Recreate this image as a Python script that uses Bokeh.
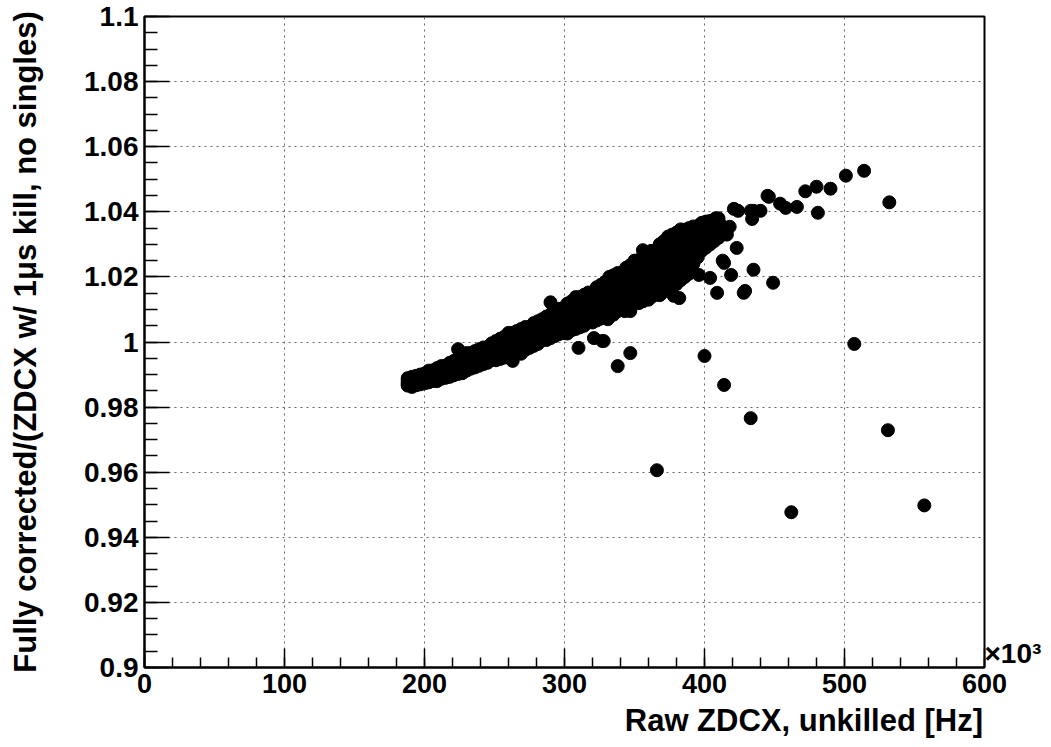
from bokeh.plotting import figure
from bokeh.models import (FixedTicker, CustomJSTickFormatter, Range1d, ColumnDataSource,
                          LinearAxis)
from bokeh.embed import file_html
from bokeh.resources import INLINE

# ---- data (x in units of 10^3 Hz) ----
# main band of the point cloud: x position and five rows from its lower to upper edge
band_x = [188, 191, 194, 197, 200, 203, 206, 209, 212, 215, 218, 221, 224, 227, 230, 233,
          236, 239, 242, 245, 248, 251, 254, 257, 260, 263, 266, 269, 272, 275, 278, 281,
          284, 287, 290, 293, 296, 299, 302, 305, 308, 311, 314, 317, 320, 323, 326, 329,
          332, 335, 338, 341, 344, 347, 350, 353, 356, 359, 362, 365, 368, 371, 374, 377,
          380, 383, 386, 389, 392, 395, 398, 401, 404, 407, 410]
band_lo = [0.9866, 0.9862, 0.9867, 0.9870, 0.9873, 0.9876, 0.9880, 0.9880, 0.9887, 0.9890, 0.9893, 0.9898, 0.9902, 0.9904, 0.9912, 0.9918,
           0.9922, 0.9927, 0.9932, 0.9936, 0.9945, 0.9944, 0.9948, 0.9952, 0.9956, 0.9942, 0.9965, 0.9964, 0.9976, 0.9982, 0.9988, 0.9994,
           1.0006, 1.0006, 1.0012, 1.0018, 1.0024, 1.0028, 1.0026, 1.0036, 1.0040, 1.0045, 1.0050, 1.0062, 1.0060, 1.0066, 1.0072, 1.0078,
           1.0084, 1.0084, 1.0095, 1.0100, 1.0105, 1.0110, 1.0122, 1.0120, 1.0125, 1.0132, 1.0138, 1.0145, 1.0144, 1.0158, 1.0165, 1.0172,
           1.0180, 1.0190, 1.0200, 1.0210, 1.0240, 1.0260, 1.0280, 1.0290, 1.0300, 1.0310, 1.0320]
band_q1 = [0.9871, 0.9870, 0.9874, 0.9879, 0.9880, 0.9884, 0.9889, 0.9893, 0.9896, 0.9900, 0.9906, 0.9909, 0.9914, 0.9918, 0.9924, 0.9929,
           0.9935, 0.9940, 0.9945, 0.9950, 0.9954, 0.9958, 0.9963, 0.9966, 0.9972, 0.9970, 0.9982, 0.9986, 0.9994, 0.9998, 1.0005, 1.0010,
           1.0018, 1.0023, 1.0031, 1.0036, 1.0043, 1.0048, 1.0054, 1.0058, 1.0064, 1.0068, 1.0074, 1.0080, 1.0086, 1.0092, 1.0099, 1.0104,
           1.0112, 1.0118, 1.0124, 1.0130, 1.0136, 1.0142, 1.0148, 1.0154, 1.0160, 1.0168, 1.0174, 1.0182, 1.0188, 1.0196, 1.0204, 1.0211,
           1.0220, 1.0228, 1.0238, 1.0246, 1.0269, 1.0285, 1.0301, 1.0310, 1.0318, 1.0326, 1.0335]
band_mid = [0.9876, 0.9880, 0.9883, 0.9887, 0.9885, 0.9894, 0.9897, 0.9904, 0.9905, 0.9912, 0.9918, 0.9921, 0.9928, 0.9930, 0.9938, 0.9943,
            0.9949, 0.9951, 0.9958, 0.9965, 0.9967, 0.9975, 0.9980, 0.9982, 0.9990, 0.9993, 1.0000, 1.0003, 1.0012, 1.0015, 1.0022, 1.0027,
            1.0036, 1.0040, 1.0050, 1.0055, 1.0062, 1.0068, 1.0076, 1.0080, 1.0088, 1.0092, 1.0099, 1.0105, 1.0112, 1.0118, 1.0126, 1.0130,
            1.0140, 1.0146, 1.0152, 1.0161, 1.0166, 1.0175, 1.0180, 1.0188, 1.0195, 1.0204, 1.0210, 1.0219, 1.0226, 1.0233, 1.0244, 1.0250,
            1.0260, 1.0266, 1.0275, 1.0282, 1.0298, 1.0310, 1.0322, 1.0330, 1.0336, 1.0342, 1.0350]
band_q3 = [0.9883, 0.9887, 0.9890, 0.9893, 0.9896, 0.9901, 0.9906, 0.9911, 0.9917, 0.9922, 0.9926, 0.9932, 0.9950, 0.9941, 0.9950, 0.9955,
           0.9961, 0.9965, 0.9971, 0.9976, 0.9982, 0.9988, 0.9995, 1.0000, 1.0006, 1.0011, 1.0018, 1.0022, 1.0029, 1.0034, 1.0040, 1.0046,
           1.0053, 1.0060, 1.0085, 1.0075, 1.0082, 1.0089, 1.0097, 1.0103, 1.0110, 1.0115, 1.0122, 1.0128, 1.0136, 1.0143, 1.0151, 1.0157,
           1.0166, 1.0176, 1.0182, 1.0190, 1.0197, 1.0205, 1.0212, 1.0220, 1.0238, 1.0237, 1.0245, 1.0254, 1.0263, 1.0272, 1.0284, 1.0290,
           1.0298, 1.0303, 1.0310, 1.0316, 1.0327, 1.0336, 1.0344, 1.0350, 1.0354, 1.0359, 1.0365]
band_hi = [0.9889, 0.9893, 0.9896, 0.9900, 0.9903, 0.9912, 0.9913, 0.9920, 0.9926, 0.9927, 0.9936, 0.9942, 0.9978, 0.9950, 0.9966, 0.9966,
           0.9972, 0.9978, 0.9983, 0.9985, 0.9996, 1.0003, 1.0010, 1.0016, 1.0028, 1.0028, 1.0034, 1.0040, 1.0046, 1.0047, 1.0058, 1.0064,
           1.0070, 1.0078, 1.0122, 1.0095, 1.0102, 1.0104, 1.0118, 1.0125, 1.0138, 1.0138, 1.0145, 1.0152, 1.0152, 1.0168, 1.0176, 1.0184,
           1.0200, 1.0205, 1.0212, 1.0212, 1.0228, 1.0236, 1.0250, 1.0252, 1.0282, 1.0270, 1.0280, 1.0282, 1.0300, 1.0310, 1.0324, 1.0330,
           1.0336, 1.0346, 1.0345, 1.0350, 1.0355, 1.0356, 1.0366, 1.0370, 1.0372, 1.0376, 1.0380]

# scattered points below the band (310-450)
below_x = [310, 321, 327, 331, 339, 343, 347, 353, 360, 365, 369, 374, 378, 380, 382, 386,
           390, 396, 400, 404, 409, 413, 414, 419, 423, 428, 429, 435, 449]
below_y = [0.9982, 1.0012, 1.0003, 1.0070, 1.0100, 1.0095, 1.0095, 1.0120, 1.0130, 1.0148, 1.0148, 1.0160, 1.0142, 1.0178, 1.0135, 1.0230,
           1.0260, 1.0206, 1.0290, 1.0197, 1.0151, 1.0250, 1.0243, 1.0206, 1.0289, 1.0151, 1.0157, 1.0222, 1.0182]

# upper tail of the band (410-535)
tail_x = [408, 411, 413, 416, 418, 421, 424, 433, 434, 435, 440, 445, 446, 454, 458, 466,
          472, 480, 481, 490, 501, 514, 532]
tail_y = [1.0380, 1.0363, 1.0350, 1.0330, 1.0354, 1.0409, 1.0403, 1.0403, 1.0378, 1.0403, 1.0403, 1.0449, 1.0446, 1.0425, 1.0412, 1.0415,
          1.0463, 1.0477, 1.0397, 1.0471, 1.0511, 1.0526, 1.0429]

# isolated outliers
outlier_x = [507, 400, 414, 433, 366, 462, 531, 557, 347, 338, 328]
outlier_y = [0.9994, 0.9957, 0.9868, 0.9766, 0.9606, 0.9477, 0.9729, 0.9498, 0.9966, 0.9926, 1.0003]

x_ticks = [0, 100, 200, 300, 400, 500, 600]
x_minor = [0, 20, 40, 60, 80, 100, 120, 140, 160, 180, 200, 220, 240, 260, 280, 300,
           320, 340, 360, 380, 400, 420, 440, 460, 480, 500, 520, 540, 560, 580, 600]
y_ticks = [0.9, 0.92, 0.94, 0.96, 0.98, 1.0, 1.02, 1.04, 1.06, 1.08, 1.1]
y_minor = [round(0.9 + 0.005 * i, 4) for i in range(41)]

x_title = "Raw ZDCX, unkilled [Hz]"
y_title = "Fully corrected/(ZDCX w/ 1\u03bcs kill, no singles)"
x_exponent = "\u00d710\u00b3"

FONT = "Liberation Sans"

xs = band_x * 5 + below_x + tail_x + outlier_x
ys = band_lo + band_q1 + band_mid + band_q3 + band_hi + below_y + tail_y + outlier_y

p = figure(width=1051, height=747, output_backend="svg", toolbar_location=None,
           x_range=Range1d(0, 600), y_range=Range1d(0.9, 1.1),
           min_border_left=144, min_border_right=67, min_border_top=16, min_border_bottom=80)
p.background_fill_color = "white"
p.border_fill_color = "white"
p.outline_line_color = "black"
p.outline_line_width = 2

p.xaxis.ticker = FixedTicker(ticks=x_ticks, minor_ticks=x_minor)
p.yaxis.ticker = FixedTicker(ticks=y_ticks, minor_ticks=y_minor)
p.yaxis.formatter = CustomJSTickFormatter(code="return String(parseFloat(tick.toFixed(3)));")

for ax in (p.xaxis[0], p.yaxis[0]):
    ax.axis_line_color = "black"
    ax.axis_line_width = 2
    ax.major_tick_line_color = "black"
    ax.minor_tick_line_color = "black"
    ax.major_tick_line_width = 1.5
    ax.minor_tick_line_width = 1.5
    ax.major_tick_out = 0
    ax.minor_tick_out = 0
    ax.major_label_text_font = FONT
    ax.major_label_text_font_style = "bold"
    ax.major_label_text_font_size = "28px"
    ax.major_label_text_color = "black"

p.yaxis.major_tick_in = 25
p.yaxis.minor_tick_in = 13
p.xaxis.major_tick_in = 19
p.xaxis.minor_tick_in = 10
p.yaxis.major_label_standoff = 6
p.xaxis.major_label_standoff = 6
p.xaxis.major_label_text_font_size = "27px"

# y title as the axis label (centred, as in the reference)
p.yaxis.axis_label = y_title
p.yaxis.axis_label_text_font = FONT
p.yaxis.axis_label_text_font_style = "bold"
p.yaxis.axis_label_text_font_size = "31px"
p.yaxis.axis_label_text_color = "black"
p.yaxis.axis_label_standoff = 38

for g in (p.xgrid[0], p.ygrid[0]):
    g.grid_line_color = "#666666"
    g.grid_line_dash = "2 4"
    g.grid_line_width = 1

src = ColumnDataSource(data=dict(x=xs, y=ys))
p.scatter("x", "y", source=src, size=13, fill_color="black", line_color="black", line_width=1)


def text_axis(tick, text, size, standoff):
    """An axis with no line or ticks whose single tick label carries a text."""
    ax = LinearAxis(ticker=FixedTicker(ticks=[tick], minor_ticks=[]),
                    formatter=CustomJSTickFormatter(code="return '%s';" % text))
    ax.axis_line_color = None
    ax.major_tick_line_color = None
    ax.minor_tick_line_color = None
    ax.major_tick_in = 0
    ax.major_tick_out = 0
    ax.minor_tick_in = 0
    ax.minor_tick_out = 0
    ax.major_label_standoff = standoff
    ax.major_label_text_font = FONT
    ax.major_label_text_font_style = "bold"
    ax.major_label_text_font_size = size
    ax.major_label_text_color = "black"
    return ax


# x title, right-aligned to the end of the axis (second, outer axis below)
p.add_layout(text_axis(471, x_title, "31px", 7), "below")
# "x10^3" exponent at the right end of the x axis
p.add_layout(text_axis(0.9043, x_exponent, "28px", 0), "right")

open("out.html", "w").write(file_html(p, INLINE))
